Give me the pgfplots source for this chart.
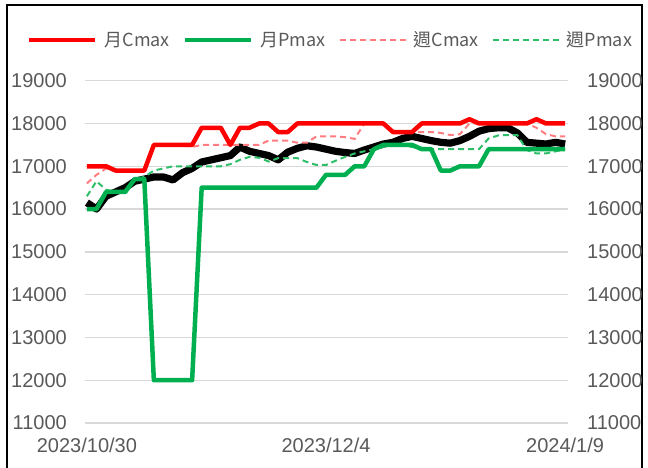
\documentclass[border=0pt]{standalone}
\usepackage{fontspec}
\setmainfont{Liberation Sans}
\newfontfamily\cjk{Noto Sans CJK TC}
\usepackage{pgfplots}
\pgfplotsset{compat=1.18}
\usepackage{pgfplotstable}
\definecolor{tickgray}{HTML}{595959}
\definecolor{gridgray}{HTML}{D9D9D9}
\definecolor{cred}{HTML}{FF0000}
\definecolor{cgreen}{HTML}{00B050}
\definecolor{wred}{HTML}{FF7C80}
\definecolor{wgreen}{HTML}{2EBE68}

\pgfplotstableread{
i blk mc mp wc wp
0 16150 17000 16000 16600 16300
1 16000 17000 16000 16800 16650
2 16300 17000 16400 16950 16450
3 16400 16900 16400 16900 16400
4 16500 16900 16400 16900 16400
5 16650 16900 16700 16900 16700
6 16700 16900 16700 16900 16750
7 16750 17500 12000 17500 16900
8 16750 17500 12000 17500 16950
9 16680 17500 12000 17500 17000
10 16850 17500 12000 17500 17000
11 16950 17500 12000 17450 17000
12 17100 17900 16500 17500 17000
13 17150 17900 16500 17500 17000
14 17200 17900 16500 17500 17000
15 17250 17500 16500 17500 17050
16 17450 17900 16500 17500 17150
17 17350 17900 16500 17500 17220
18 17300 18000 16500 17500 17200
19 17250 18000 16500 17600 17110
20 17150 17800 16500 17600 17190
21 17330 17800 16500 17600 17190
22 17420 18000 16500 17550 17190
23 17480 18000 16500 17550 17100
24 17450 18000 16500 17700 17030
25 17400 18000 16800 17700 17030
26 17350 18000 16800 17700 17130
27 17320 18000 16800 17680 17220
28 17300 18000 17000 17640 17300
29 17380 18000 17000 18000 17350
30 17450 18000 17400 18000 17400
31 17520 18000 17500 18000 17450
32 17560 17800 17500 17800 17500
33 17650 17800 17500 17800 17500
34 17700 17800 17500 17800 17450
35 17650 18000 17400 17800 17400
36 17600 18000 17400 17800 17400
37 17560 18000 16900 17780 17400
38 17540 18000 16900 17730 17400
39 17600 18000 17000 17750 17400
40 17700 18100 17000 18000 17400
41 17820 18000 17000 18000 17400
42 17880 18000 17400 18000 17650
43 17900 18000 17400 18000 17720
44 17900 18000 17400 18000 17730
45 17780 18000 17400 18000 17730
46 17560 18000 17400 18000 17380
47 17540 18100 17400 17900 17300
48 17520 18000 17400 17750 17300
49 17560 18000 17400 17700 17350
50 17520 18000 17400 17700 17400
}\data

\begin{document}
\begin{tikzpicture}[x=1pt,y=1pt]
\useasboundingbox (0,0) rectangle (648,467);
\draw[line width=2pt] (7,-5) -- (7,462) -- (642,462) -- (642,-5);
\begin{axis}[
  at={(85pt,44pt)}, anchor=south west, scale only axis,
  width=483pt, height=342.3pt,
  xmin=-0.2, xmax=50.3, ymin=11000, ymax=19000,
  ytick={11000,12000,...,19000},
  scaled y ticks=false,
  xtick={0,25,50}, xticklabels={2023/10/30,2023/12/4,2024/1/9},
  axis line style={draw=none}, tick style={draw=none}, major tick length=0pt,
  ymajorgrids, grid style={gridgray, line width=1.4pt},
  ticklabel style={font=\fontsize{20}{24}\selectfont, text=tickgray},
  yticklabel style={anchor=east, inner sep=0pt, xshift=-18pt},
  xticklabel style={anchor=north, inner sep=0pt, yshift=-15pt},
  /pgf/number format/assume math mode=true,
  /pgf/number format/set thousands separator={},
  clip=false,
  legend columns=4,
  legend cell align=left,
  legend image code/.code={\draw[#1] (0pt,0pt) -- (66pt,0pt);},
  legend style={at={(-0.1201,1.119)}, anchor=west, draw=none, fill=none,
    inner sep=0pt, column sep=0pt,
    font=\cjk\fontsize{18}{22}\selectfont,
    nodes={inner sep=0pt, text=tickgray},
    /tikz/every odd column/.append style={column sep=7pt},
    /tikz/every even column/.append style={column sep=13pt}},
]
\addplot[black, line width=7.2pt, line join=round, no markers, forget plot] table[x=i,y=blk]{\data};
\addplot[wred, line width=2pt, dash pattern=on 6pt off 4pt, no markers, forget plot] table[x=i,y=wc]{\data};
\addplot[wgreen, line width=2pt, dash pattern=on 6pt off 4pt, no markers, forget plot] table[x=i,y=wp]{\data};
\addplot[cred, line width=4.5pt, line join=round, no markers] table[x=i,y=mc]{\data};
\addlegendentry{月Cmax}
\addplot[cgreen, line width=4.5pt, line join=round, no markers] table[x=i,y=mp]{\data};
\addlegendentry{月Pmax}
\addlegendimage{wred, line width=2pt, dash pattern=on 6pt off 4pt}
\addlegendentry{週Cmax}
\addlegendimage{wgreen, line width=2pt, dash pattern=on 6pt off 4pt}
\addlegendentry{週Pmax}
\end{axis}
\begin{axis}[
  at={(85pt,44pt)}, anchor=south west, scale only axis,
  width=483pt, height=342.3pt,
  xmin=-0.2, xmax=50.3, ymin=11000, ymax=19000,
  ytick={11000,12000,...,19000},
  scaled y ticks=false,
  axis x line=none, axis y line*=right,
  axis line style={draw=none}, tick style={draw=none}, major tick length=0pt,
  ticklabel style={font=\fontsize{20}{24}\selectfont, text=tickgray},
  yticklabel style={anchor=west, inner sep=0pt, xshift=19pt},
  /pgf/number format/assume math mode=true,
  /pgf/number format/set thousands separator={},
]
\addplot[draw=none, no markers] coordinates {(0,11000) (50,19000)};
\end{axis}
\end{tikzpicture}
\end{document}
